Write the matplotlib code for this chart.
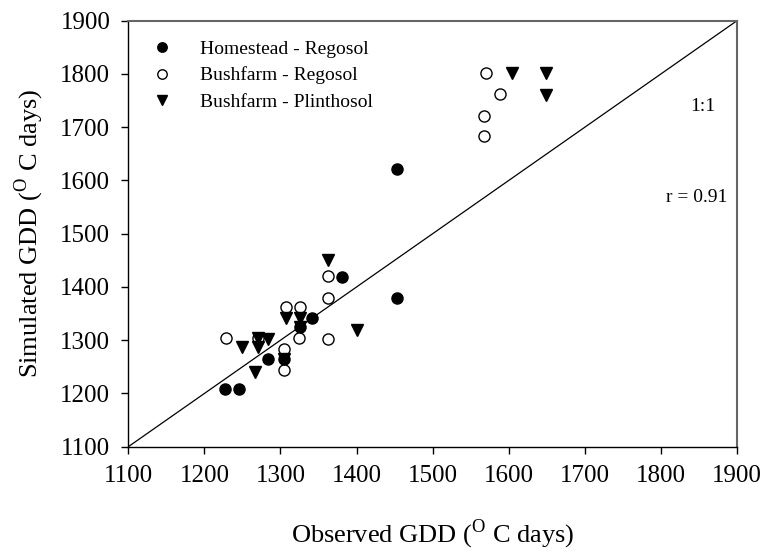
import matplotlib
matplotlib.use('Agg')
import matplotlib.pyplot as plt
import numpy as np

plt.rcParams['font.family'] = ['Liberation Serif', 'DejaVu Serif']
plt.rcParams['mathtext.fontset'] = 'custom'
plt.rcParams['mathtext.rm'] = 'Liberation Serif'

# observed / simulated GDD for each site - soil combination
home_reg_obs = [1227, 1245, 1284, 1304, 1326, 1342, 1381, 1453, 1453]
home_reg_sim = [1208, 1208, 1264, 1264, 1325, 1341, 1419, 1380, 1621]

bush_reg_obs = [1229, 1270, 1304, 1304, 1307, 1326, 1325, 1362, 1362, 1362,
                1570, 1588, 1567, 1567]
bush_reg_sim = [1305, 1305, 1284, 1245, 1362, 1362, 1305, 1420, 1380, 1303,
                1802, 1762, 1721, 1683]

bush_pli_obs = [1249, 1266, 1270, 1284, 1270, 1307, 1326, 1304, 1326, 1362,
                1400, 1604, 1649, 1649]
bush_pli_sim = [1287, 1241, 1287, 1302, 1305, 1341, 1341, 1264, 1325, 1451,
                1320, 1802, 1802, 1760]

ticks = [1100, 1200, 1300, 1400, 1500, 1600, 1700, 1800, 1900]

fig = plt.figure(figsize=(7.65, 5.55), dpi=100)
ax = fig.add_axes([0.1677, 0.1951, 0.7957, 0.7676])

ax.plot([1100, 1900], [1100, 1900], color='black', lw=0.9, zorder=1)

ax.plot(bush_reg_obs, bush_reg_sim, 'o', ms=8, mfc='white', mec='black', mew=1.0,
        label='Bushfarm - Regosol', zorder=3)
ax.plot(home_reg_obs, home_reg_sim, 'o', ms=8, color='black',
        label='Homestead - Regosol', zorder=2)
ax.plot(bush_pli_obs, bush_pli_sim, 'v', ms=8, color='black',
        label='Bushfarm - Plinthosol', zorder=4)

ax.set_xlim(1100, 1900)
ax.set_ylim(1100, 1900)
ax.set_xticks(ticks)
ax.set_yticks(ticks)
ax.tick_params(labelsize=18, direction='out', length=5, width=1, pad=8)

for s in ['top', 'right']:
    ax.spines[s].set_color('#666666')
    ax.spines[s].set_linewidth(1.5)
for s in ['left', 'bottom']:
    ax.spines[s].set_linewidth(1.0)

ax.set_xlabel(r'Observed GDD ($^{\rm O}$ C days)', fontsize=19, labelpad=22)
ax.set_ylabel(r'Simulated GDD ($^{\rm O}$ C days)', fontsize=19, labelpad=10)

handles, labels = ax.get_legend_handles_labels()
order = [1, 0, 2]
ax.legend([handles[i] for i in order], [labels[i] for i in order],
          loc='upper left', frameon=False, fontsize=14, handletextpad=1.2,
          borderaxespad=0.5, labelspacing=0.45, markerscale=0.85,
          handlelength=1.5, borderpad=0.5)

ax.text(1872, 1738, '1:1', fontsize=14, ha='right', va='center')
ax.text(1887, 1568, 'r = 0.91', fontsize=14, ha='right', va='center')

fig.savefig('out.png', dpi=100)
